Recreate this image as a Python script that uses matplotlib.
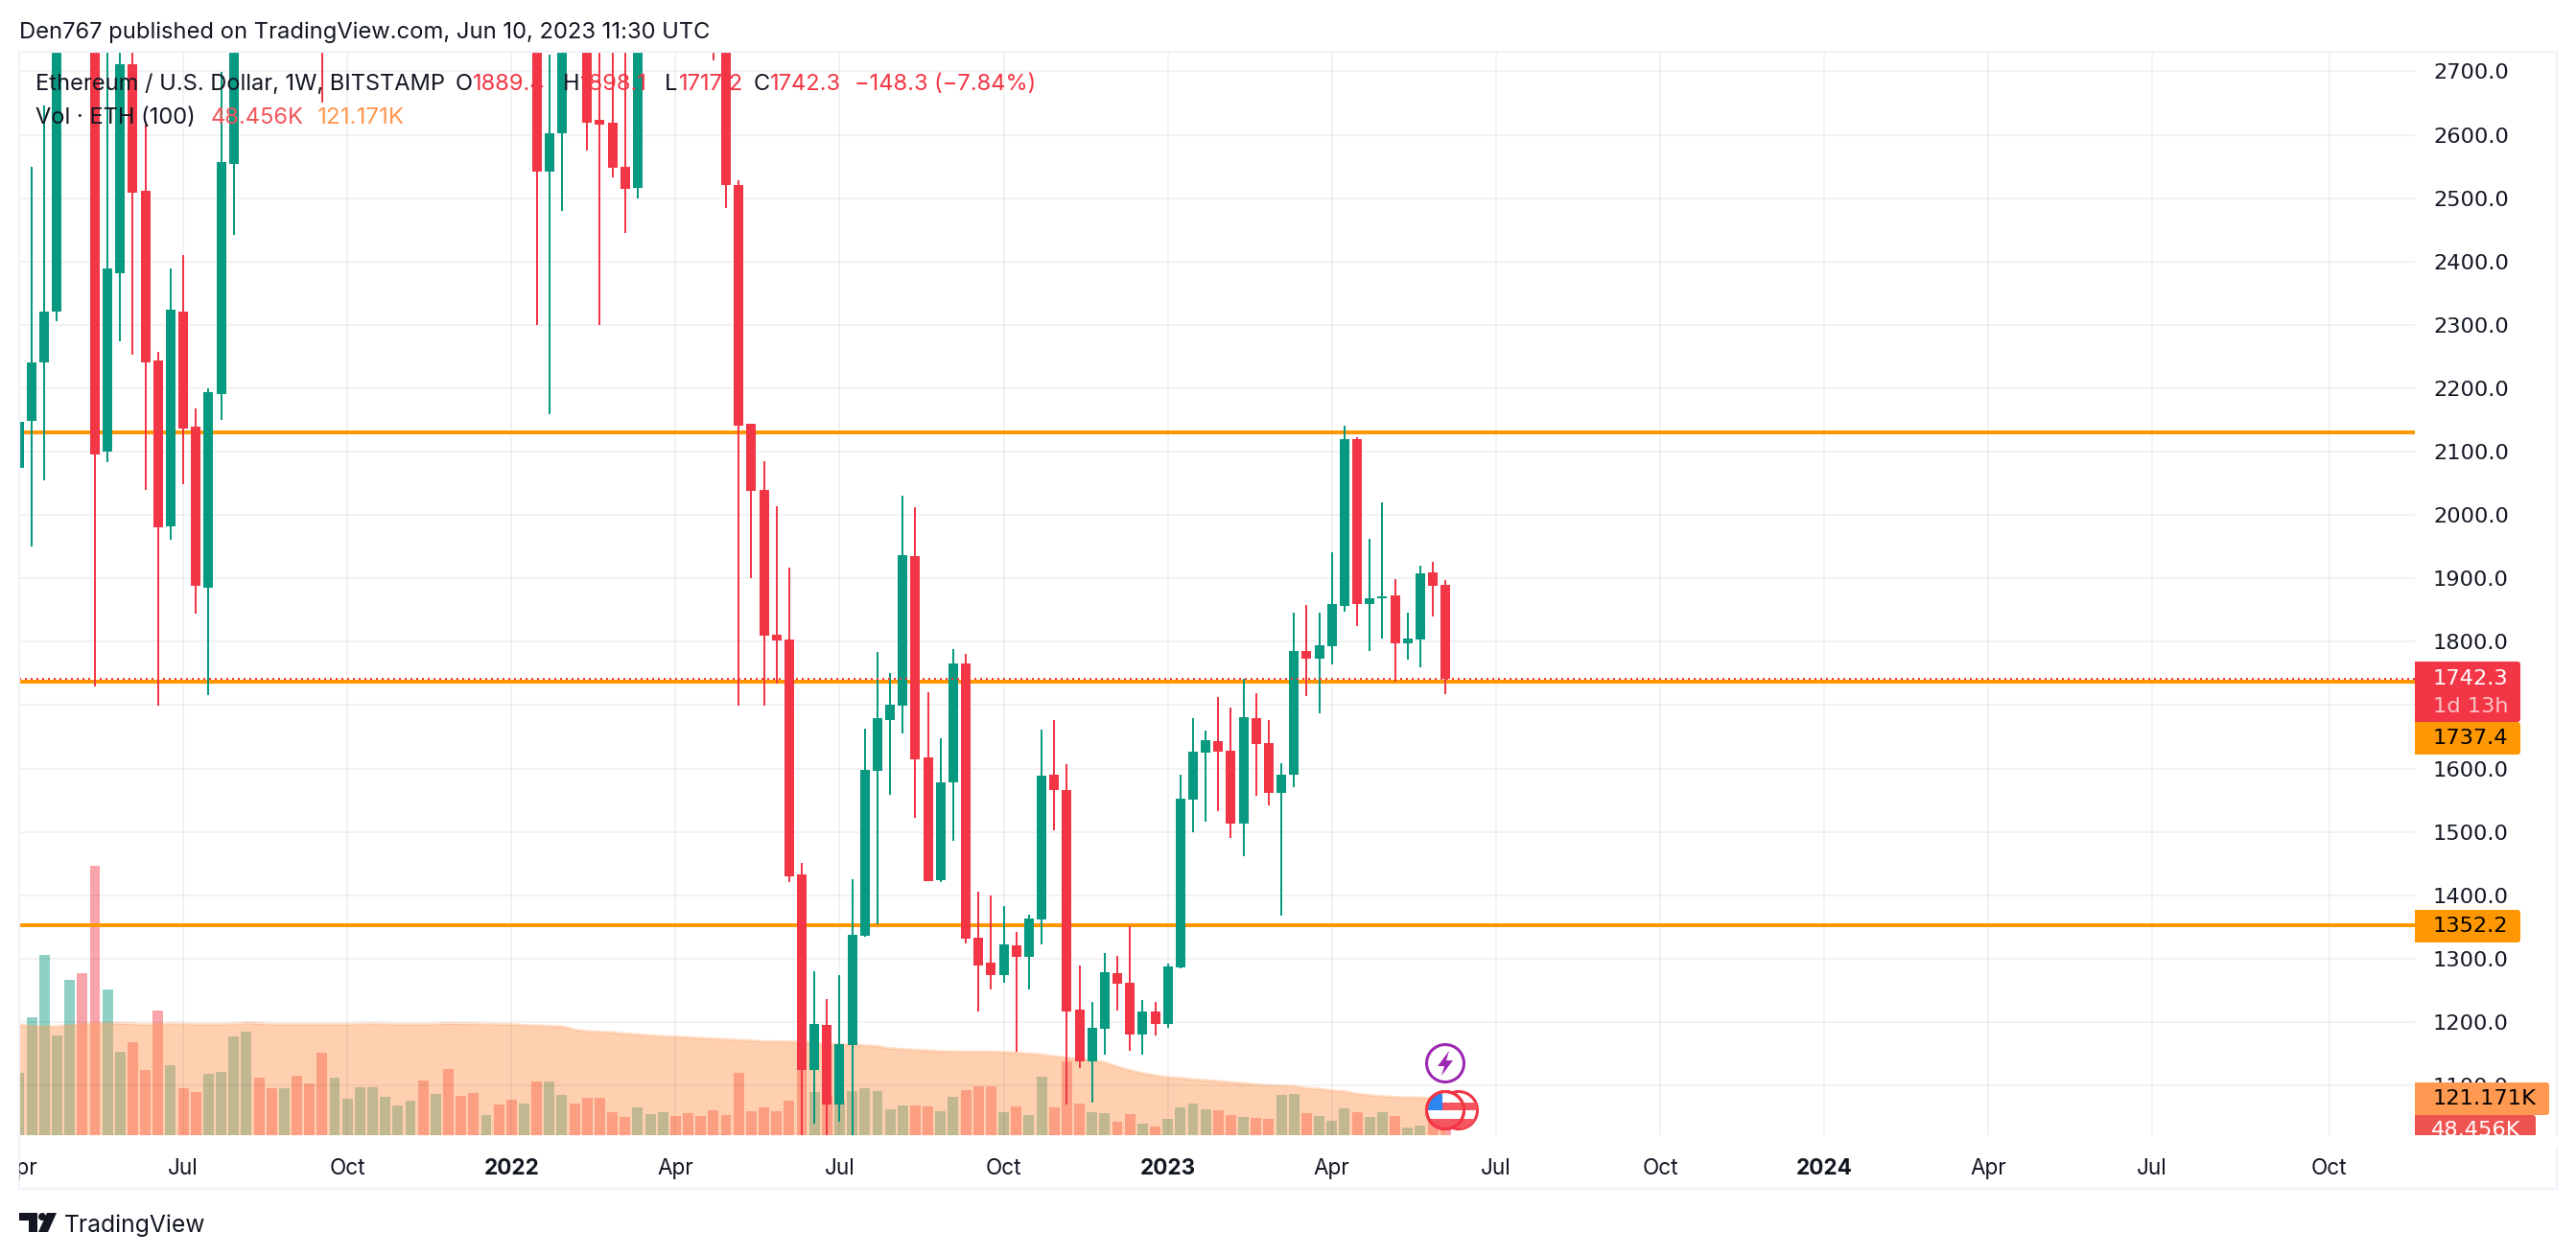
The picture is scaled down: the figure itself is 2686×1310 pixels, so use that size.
import matplotlib
matplotlib.use('Agg')
import matplotlib.pyplot as plt
from matplotlib.patches import Circle, FancyBboxPatch, Polygon, Rectangle
from matplotlib.transforms import Bbox
import numpy as np

n = float('nan')  # candle is completely above the visible range

opens = [2074, 2149, 2241, 2321, n, n, 3400, 2100, 2382, 2711,
         2512, 2244, 1982, 2321, 2139, 1885, 2191, 2554, n, n,
         n, n, n, n, 2900, n, n, n, n, n,
         n, n, n, n, n, n, n, n, n, n,
         n, 2800, 2542, 2602, n, 2800, 2624, 2619, 2549, 2516,
         n, n, n, n, n, 2900, 2800, 2521, 2144, 2040,
         1811, 1804, 1433, 1124, 1195, 1070, 1164, 1336, 1596, 1677,
         1699, 1935, 1617, 1424, 1578, 1766, 1333, 1294, 1274, 1321,
         1303, 1362, 1590, 1566, 1220, 1138, 1189, 1277, 1262, 1180,
         1217, 1197, 1286, 1551, 1625, 1643, 1628, 1513, 1680, 1640,
         1562, 1590, 1785, 1773, 1793, 1857, 2120, 1860, 1869, 1873, 1798, 1804, 1910, 1889.4]
highs = [2197, 2550, 2646, 2830, n, n, 3500, 2900, 2800, 2800,
         2616, 2257, 2389, 2410, 2168, 2200, 2699, 2900, n, n,
         n, n, n, n, 3000, n, n, n, n, n,
         n, n, n, n, n, n, n, n, n, n,
         n, 2850, 2727, 2850, n, 2850, 2850, 2800, 2800, 2850,
         n, n, n, n, n, 2950, 2850, 2528, 2144, 2085,
         2014, 1917, 1451, 1280, 1236, 1274, 1425, 1663, 1784, 1751,
         2031, 2012, 1720, 1648, 1788, 1781, 1406, 1400, 1383, 1342,
         1369, 1661, 1677, 1607, 1289, 1232, 1309, 1304, 1351, 1235,
         1232, 1292, 1590, 1680, 1660, 1713, 1696, 1742, 1719, 1677,
         1608, 1846, 1858, 1846, 1941, 2141, 2123, 1962, 2020, 1899, 1846, 1920, 1926, 1898.1]
lows = [1931, 1950, 2055, 2306, n, n, 1729, 2083, 2274, 2253,
        2040, 1699, 1961, 2049, 1844, 1716, 2150, 2442, n, n,
        n, n, n, n, 2651, n, n, n, n, n,
        n, n, n, n, n, n, n, n, n, n,
        n, 2300, 2159, 2480, n, 2575, 2300, 2533, 2445, 2500,
        n, n, n, n, n, 2717, 2484, 1699, 1900, 1699,
        1734, 1421, 1010, 1040, 1010, 1043, 1010, 1335, 1354, 1558,
        1655, 1522, 1422, 1421, 1486, 1324, 1217, 1251, 1262, 1153,
        1251, 1322, 1503, 1070, 1127, 1073, 1148, 1218, 1155, 1148,
        1179, 1191, 1285, 1499, 1516, 1533, 1490, 1462, 1557, 1542,
        1368, 1571, 1714, 1687, 1764, 1847, 1825, 1785, 1805, 1737, 1772, 1760, 1840, 1717.2]
closes = [2147, 2241, 2321, 2800, n, n, 2096, 2389, 2711, 2509,
          2241, 1981, 2324, 2136, 1888, 2194, 2557, 2800, n, n,
          n, n, n, n, 2800, n, n, n, n, n,
          n, n, n, n, n, n, n, n, n, n,
          n, 2542, 2602, 2800, n, 2619, 2616, 2548, 2515, 2800,
          n, n, n, n, n, 2800, 2521, 2141, 2038, 1810,
          1802, 1430, 1124, 1197, 1070, 1165, 1338, 1598, 1680, 1701,
          1937, 1614, 1422, 1578, 1766, 1332, 1289, 1274, 1322, 1303,
          1363, 1589, 1566, 1217, 1138, 1191, 1279, 1260, 1180, 1217,
          1197, 1288, 1552, 1627, 1645, 1627, 1513, 1681, 1639, 1562,
          1590, 1785, 1773, 1795, 1860, 2120, 1860, 1869, 1872, 1798, 1805, 1908, 1888, 1742.3]

# volume in thousands
volume = [205, 390, 598, 330, 515, 538, 894, 483, 275, 307,
          215, 413, 230, 154, 142, 202, 209, 327, 343, 190,
          154, 154, 195, 170, 272, 190, 119, 157, 157, 126,
          97, 112, 180, 135, 218, 129, 139, 65, 100, 117,
          104, 177, 177, 132, 104, 122, 122, 74, 59, 91,
          69, 74, 63, 72, 63, 82, 66, 206, 79, 91,
          79, 114, 370, 142, 125, 115, 146, 155, 146, 85,
          98, 98, 95, 79, 126, 149, 162, 162, 75, 95,
          66, 193, 91, 244, 104, 75, 72, 44, 69, 37,
          28, 53, 91, 104, 85, 82, 66, 60, 56, 53,
          133, 136, 72, 63, 47, 88, 75, 60, 75, 63, 24, 31, 46, 48.456]
volume_dir = ('gggggrrggr' 'rrgrrggggr' 'rgrrrggggg' 'ggrgrrrgrr' 'grggrrrrrg'
              'ggrrrrrrrr' 'rrrgrggggg' 'grrggrrrgr' 'ggrrrggrrg' 'rggggrrgrr'
              'ggrgggrggrggrr')
volume_ma = [366, 361, 360, 360, 364, 366, 371, 371, 370, 369,
             366, 367, 369, 368, 367, 367, 367, 368, 372, 370,
             367, 367, 367, 367, 367, 367, 367, 368, 369, 368,
             367, 367, 367, 368, 370, 369, 369, 368, 367, 367,
             364, 363, 361, 360, 349, 344, 342, 340, 336, 333,
             330, 327, 326, 324, 321, 319, 317, 315, 313, 310,
             310, 309, 309, 304, 302, 300, 299, 297, 294, 287,
             284, 282, 280, 277, 277, 276, 276, 276, 274, 273,
             270, 266, 261, 256, 252, 248, 240, 226, 214, 204,
             197, 191, 188, 184, 181, 178, 174, 171, 167, 164,
             163, 161, 155, 152, 147, 144, 136, 131, 128, 125, 124, 123, 122, 121.171]

price_ticks = [2700, 2600, 2500, 2400, 2300, 2200, 2100, 2000, 1900, 1800,
               1700, 1600, 1500, 1400, 1300, 1200, 1100]
date_pos = [13, 26, 39, 52, 65, 78, 91, 104, 117, 130, 143, 156, 169, 183]
date_labels = ['Jul', 'Oct', '2022', 'Apr', 'Jul', 'Oct', '2023', 'Apr', 'Jul', 'Oct',
               '2024', 'Apr', 'Jul', 'Oct']
levels = [2130.8, 1737.4, 1352.2]
last_close = 1742.3

GREEN = '#089981'
RED = '#F23645'
ORANGE = '#FF9800'
VOL_ORANGE = '#FF9850'
INK = '#131722'
BORDER = '#F0F3FA'
AXIS_FONT = 'DejaVu Sans'  # closest to the wide tabular figures of the price scale

plt.rcParams['font.family'] = ['Inter', 'DejaVu Sans']
W, H = 2686, 1310
fig = plt.figure(figsize=(W / 100, H / 100), dpi=100, facecolor='white')
rect = [20 / W, 1 - 1183.5 / H, (2518 - 20) / W, (1183.5 - 54) / H]

x = np.arange(len(opens))
o, h, l, c = map(np.array, (opens, highs, lows, closes))
up = c >= o

# volume pane lives under the candles
ax_vol = fig.add_axes(rect, zorder=1)
ax_vol.set_xlim(0, 189.8)
ax_vol.set_ylim(0, 3601)
ax_vol.axis('off')
vol_colors = [GREEN if d == 'g' else RED for d in volume_dir]
ax_vol.bar(x, volume, width=0.83, color=vol_colors, alpha=0.45, linewidth=0)
ax_vol.fill_between(x, 0, volume_ma, color=VOL_ORANGE, alpha=0.45, linewidth=0)
ax_vol.plot(x, volume_ma, color=VOL_ORANGE, alpha=0.3, linewidth=2)

ax = fig.add_axes(rect, zorder=2)
ax.patch.set_visible(False)
ax.set_xlim(0, 189.8)
ax.set_ylim(1022.2, 2731)
ax.grid(True, color='#2A2E39', alpha=0.06, linewidth=1.44)
ax.set_axisbelow(True)
for s in ax.spines.values():
    s.set_visible(False)

ax.hlines(levels, 0, 189.8, color=ORANGE, linewidth=2.9, zorder=3)

ok = ~np.isnan(o)
colors = np.where(up, GREEN, RED)
ax.vlines(x[ok], l[ok], h[ok], colors=colors[ok], linewidth=1.44, zorder=4)
ax.bar(x[ok], np.abs(c - o)[ok], bottom=np.minimum(o, c)[ok], width=0.76,
       color=colors[ok], linewidth=0, zorder=4)
ax.axhline(last_close, color=RED, linewidth=1.44, linestyle=(0, (1, 2)), zorder=5)

ax.yaxis.tick_right()
ax.set_yticks(price_ticks)
# the 1700 label sits completely behind the last-price badge
ax.set_yticklabels(['' if t == 1700 else '%.1f' % t for t in price_ticks], fontfamily=AXIS_FONT)
ax.set_xticks(date_pos)
ax.set_xticklabels(date_labels)
ax.tick_params(axis='y', length=0, pad=13.7, labelsize=16.2, labelcolor=INK)
ax.tick_params(axis='x', length=0, pad=17.7, labelsize=16.2, labelcolor=INK)
for t in ax.get_xticklabels():
    if t.get_text().isdigit():
        t.set_fontweight('bold')

# furniture on a pixel grid over the whole figure
fr = fig.add_axes([0, 0, 1, 1], zorder=3)
fr.patch.set_visible(False)
fr.set_xlim(0, W)
fr.set_ylim(H, 0)
fr.axis('off')
fr.add_patch(Rectangle((20, 54), 2646, 1186, fill=False, edgecolor=BORDER, linewidth=1.6))


def badge(x0, y0, x1, y1, color):
    fr.add_patch(FancyBboxPatch((x0 + 6, y0), x1 - x0 - 6, y1 - y0, boxstyle='round,pad=0,rounding_size=3',
                                facecolor=color, edgecolor='none'))
    fr.add_patch(Rectangle((x0, y0), 12, y1 - y0, facecolor=color, edgecolor='none'))


def label(px, py, s, color, size=16.2, **kw):
    return fr.text(px, py, s, color=color, fontsize=size, va='center', ha=kw.pop('ha', 'left'), **kw)


badge(2518, 690, 2628, 753, RED)
label(2537, 708, '1742.3', 'white', family=AXIS_FONT)
label(2537, 737, '1d 13h', '#FBC3C8', family=AXIS_FONT)
badge(2518, 753, 2628, 787, ORANGE)
label(2537, 770, '1737.4', 'black', family=AXIS_FONT)
badge(2518, 949, 2628, 983, ORANGE)
label(2537, 966, '1352.2', 'black', family=AXIS_FONT)
badge(2518, 1129, 2658, 1163, VOL_ORANGE)
label(2537, 1146, '121.171K', 'black', family=AXIS_FONT)
badge(2518, 1163, 2644, 1190, '#EF5350')
fr.add_patch(Rectangle((2510, 1184), 170, 12, facecolor='white', edgecolor='none', zorder=2))
t = label(2535, 1179, '48.456K', 'white', family=AXIS_FONT)
t.set_clip_box(Bbox([[2518, H - 1184], [2660, H - 1160]]))
t.set_clip_on(True)
t = label(20, 1219, 'Apr', INK, ha='center')
t.set_clip_box(Bbox([[20, 0], [200, 200]]))
t.set_clip_on(True)

label(20, 34, 'Den767 published on TradingView.com, Jun 10, 2023 11:30 UTC', INK, size=17.1)
y1, y2 = 88, 123
label(37, y1, 'Ethereum / U.S. Dollar, 1W, BITSTAMP', INK, size=17)
for px, s, col in [(475, 'O', INK), (493, '1889.4', RED), (587, 'H', INK), (605, '1898.1', RED),
                   (693, 'L', INK), (708, '1717.2', RED), (786, 'C', INK), (803, '1742.3', RED),
                   (891, '\u2212148.3 (\u22127.84%)', RED)]:
    label(px, y1, s, col, size=17)
label(37, y2, 'Vol \u00b7 ETH (100)', INK, size=17)
label(220, y2, '48.456K', '#F2545B', size=17)
label(331, y2, '121.171K', VOL_ORANGE, size=17.4)

# logo
fr.add_patch(Polygon([(20, 1265), (39, 1265), (39, 1285), (30, 1285), (30, 1273), (20, 1273)], color=INK, lw=0))
fr.add_patch(Circle((44, 1269), 4, color=INK, lw=0))
fr.add_patch(Polygon([(49, 1265), (59, 1265), (50, 1285), (40, 1285)], color=INK, lw=0))
label(67, 1278, 'TradingView', INK, size=17.8)

# event icons
fr.add_patch(Circle((1507, 1109), 19.5, facecolor='white', edgecolor='#9C27B0', linewidth=2.2))
fr.add_patch(Polygon([(1511, 1096), (1499, 1112), (1506, 1112), (1503, 1122), (1515, 1106), (1508, 1106)],
                     color='#9C27B0', lw=0))
for cx in (1521, 1507):
    disc = Circle((cx, 1158), 19.5, facecolor='white', edgecolor=RED, linewidth=2.2, zorder=4)
    fr.add_patch(disc)
    stripe1 = Rectangle((cx - 20, 1150), 40, 8, color='#F5565F', lw=0, zorder=4)
    stripe2 = Rectangle((cx - 20, 1167), 40, 10, color='#F5565F', lw=0, zorder=4)
    canton = Rectangle((cx - 20, 1141), 17, 17, color='#2E86F0', lw=0, zorder=4)
    for p in (stripe1, stripe2, canton):
        fr.add_patch(p)
        p.set_clip_path(disc)
    if cx == 1507:
        fr.add_patch(Circle((cx, 1158), 19.5, fill=False, edgecolor=RED, linewidth=2.2, zorder=4))

fig.savefig('out.png', dpi=100, facecolor='white')
